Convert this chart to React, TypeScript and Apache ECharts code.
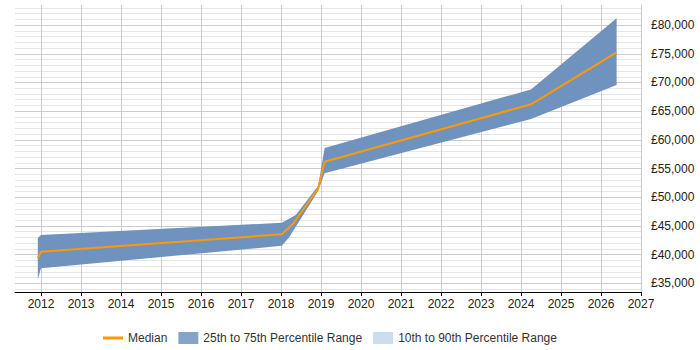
import React, { useEffect, useRef } from "react";
import * as echarts from "echarts";

const medianYears = [2011.92, 2012.0, 2018.02, 2018.31, 2018.93, 2019.09, 2024.25, 2026.39];
const medianValues = [39400, 40500, 43550, 45450, 51550, 56200, 66200, 75250];

const upperYears = [2011.92, 2012.0, 2018.02, 2018.37, 2018.93, 2019.09, 2024.25, 2026.39];
const upperValues = [42900, 43450, 45550, 46900, 52000, 58600, 68800, 81200];

const lowerYears = [2011.92, 2012.0, 2018.02, 2018.2, 2018.93, 2019.09, 2024.25, 2026.39];
const lowerValues = [35700, 37650, 41550, 43000, 51100, 54200, 63650, 69550];

const FONT = "'Liberation Sans', Arial, sans-serif";

export default function App() {
  const ref = useRef<HTMLDivElement>(null);
  useEffect(() => {
    if (!ref.current) return;
    const chart = echarts.init(ref.current, null, { renderer: "svg" });
    const T = "rgba(0,0,0,0)";
    const L = "#e6e6e6";
    const D = "#cccccc";
    chart.setOption({
      animation: false,
      textStyle: { fontFamily: FONT },
      grid: [
        { left: 15, right: 59, top: 5, bottom: 58, containLabel: false, outerBoundsMode: "none" },
        { left: 41, right: 59, top: 5, bottom: 58, containLabel: false, outerBoundsMode: "none" },
      ],
      xAxis: [
        {
          type: "value",
          gridIndex: 0,
          min: 2011.35,
          max: 2027,
          axisLine: { show: true, onZero: false, lineStyle: { color: "#000", width: 1 } },
          axisTick: { show: false },
          axisLabel: { show: false },
          splitLine: { show: false },
        },
        {
          type: "value",
          gridIndex: 1,
          min: 2012,
          max: 2027,
          interval: 1,
          axisLine: { show: false, onZero: false },
          axisTick: { show: true, length: 4, lineStyle: { color: "#000" } },
          axisLabel: {
            show: true,
            margin: 6,
            fontSize: 12,
            color: "#222",
            fontFamily: FONT,
            formatter: (v: number) => String(Math.round(v)),
          },
          splitLine: { show: true, lineStyle: { color: "#cccccc", width: 1 } },
        },
      ],
      yAxis: [
        {
          type: "value",
          gridIndex: 0,
          position: "right",
          min: 33500,
          max: 83500,
          interval: 500,
          axisLine: { show: true, lineStyle: { color: "#cccccc" } },
          axisTick: { show: false },
          axisLabel: {
            show: true,
            margin: 10,
            fontSize: 12,
            color: "#222",
            fontFamily: FONT,
            formatter: (v: number) => {
              const r = Math.round(v);
              return r % 5000 === 0 ? "£" + r.toLocaleString("en-GB") : "";
            },
          },
          splitLine: {
            show: true,
            lineStyle: { color: [T, L, T, D, T, L, T, L, T, L], width: 1 },
          },
        },
        {
          type: "value",
          gridIndex: 1,
          show: false,
          min: 0,
          max: 1,
          splitLine: { show: false },
        },
      ],
      legend: {
        left: 98,
        top: 327,
        itemWidth: 20,
        itemHeight: 12,
        itemGap: 11,
        textStyle: { fontSize: 12, color: "#333", fontFamily: FONT },
        data: [
          { name: "Median", icon: "path://M0,0L20,0L20,3L0,3Z", itemStyle: { color: "#ff9900" } },
          { name: "25th to 75th Percentile Range", icon: "rect" },
          { name: "10th to 90th Percentile Range", icon: "rect" },
        ],
      },
      series: [
        {
          name: "25th to 75th Percentile Range",
          type: "custom",
          xAxisIndex: 0,
          yAxisIndex: 0,
          coordinateSystem: "cartesian2d",
          itemStyle: { color: "#86a4c8" },
          clip: false,
          encode: { x: 0, y: 1 },
          data: [[upperYears[0], upperValues[0]]],
          renderItem: (_params: any, api: any) => {
            const pts: number[][] = [];
            for (let i = 0; i < upperYears.length; i++) {
              pts.push(api.coord([upperYears[i], upperValues[i]]));
            }
            for (let i = lowerYears.length - 1; i >= 0; i--) {
              pts.push(api.coord([lowerYears[i], lowerValues[i]]));
            }
            return {
              type: "polygon",
              shape: { points: pts },
              style: { fill: "#6f93be", stroke: "none" },
            };
          },
          z: 2,
        },
        {
          name: "10th to 90th Percentile Range",
          type: "custom",
          xAxisIndex: 0,
          yAxisIndex: 0,
          coordinateSystem: "cartesian2d",
          itemStyle: { color: "#cddcee" },
          data: [],
          renderItem: () => null,
        },
        {
          name: "Median",
          type: "line",
          xAxisIndex: 0,
          yAxisIndex: 0,
          symbol: "none",
          itemStyle: { color: "#ff9900" },
          lineStyle: { color: "#ff9900", width: 2 },
          data: medianYears.map((y, i) => [y, medianValues[i]]),
          z: 3,
        },
      ],
    });
    return () => chart.dispose();
  }, []);
  return (
    <div
      ref={ref}
      style={{ position: "absolute", left: 0, top: 0, width: 700, height: 350 }}
    />
  );
}
